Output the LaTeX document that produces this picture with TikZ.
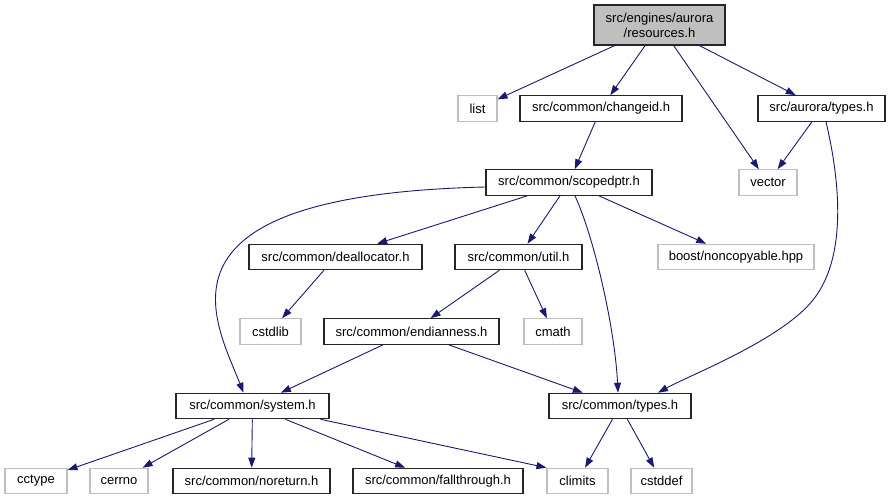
\documentclass[tikz,border=0pt]{standalone}
\usepackage{fontspec}
\setmainfont{Liberation Sans}
\usepackage{tikz}
\usetikzlibrary{positioning,arrows.meta}

\definecolor{edgeblue}{HTML}{191970}

\begin{document}
\begin{tikzpicture}[x=1pt,y=-1pt]
        \tikzset{
            hdr/.style={draw=black!85, line width=1.1pt, minimum height=25.5pt, inner sep=0pt, font=\fontsize{13}{15}\selectfont},
            sysh/.style={hdr, draw=black!25},
            top/.style={hdr, fill=black!25, minimum height=40pt, align=center},
            dep/.style={edgeblue, line width=0.9pt, -{Triangle[length=10pt,width=7pt]}}
        }
        \useasboundingbox (0,0) rectangle (890,500);
        \node[top, minimum width=131pt] (res) at (659.5,25) {src/engines/aurora\\/resources.h};
        \node[sysh, minimum width=39pt] (list) at (477.5,108.5) {list};
        \node[hdr, minimum width=162pt] (changeid) at (601,108.5) {src/common/changeid.h};
        \node[hdr, minimum width=127pt] (atypes) at (821.5,108.5) {src/aurora/types.h};
        \node[sysh, minimum width=58pt] (vector) at (768,182.5) {vector};
        \node[hdr, minimum width=166pt] (scoped) at (569,182.5) {src/common/scopedptr.h};
        \node[hdr, minimum width=173pt] (dealloc) at (335.5,257) {src/common/deallocator.h};
        \node[hdr, minimum width=127pt] (util) at (518.5,257) {src/common/util.h};
        \node[sysh, minimum width=156pt] (boost) at (736,257) {boost/noncopyable.hpp};
        \node[sysh, minimum width=61pt] (cstdlib) at (270.5,331.5) {cstdlib};
        \node[hdr, minimum width=175pt] (endian) at (411.5,331.5) {src/common/endianness.h};
        \node[sysh, minimum width=58pt] (cmath) at (553,331.5) {cmath};
        \node[hdr, minimum width=153pt] (system) at (252.5,406) {src/common/system.h};
        \node[hdr, minimum width=142pt] (ctypes) at (620,406) {src/common/types.h};
        \node[sysh, minimum width=62pt] (cctype) at (36,481) {cctype};
        \node[sysh, minimum width=58pt] (cerrno) at (119,481) {cerrno};
        \node[hdr, minimum width=157pt] (noret) at (251.5,481) {src/common/noreturn.h};
        \node[hdr, minimum width=170pt] (fallthr) at (438,481) {src/common/fallthrough.h};
        \node[sysh, minimum width=61pt] (climits) at (577.5,481) {climits};
        \node[sysh, minimum width=61pt] (cstddef) at (661.5,481) {cstddef};

        \draw[dep] (res) -- (list);
        \draw[dep] (res) -- (changeid);
        \draw[dep] (res) -- (vector);
        \draw[dep] (res) -- (atypes);
        \draw[dep] (atypes) -- (vector);
        \draw[dep] ([xshift=4.5pt]atypes.south) .. controls (842,190) and (845,260) .. (813,300)
            .. controls (781,340) and (690,375) .. ([xshift=38pt]ctypes.north);
        \draw[dep] (changeid) -- (scoped);
        \draw[dep] ([yshift=-4.5pt]scoped.west) .. controls (140,195) and (215,320) .. ([xshift=-9pt]system.north);
        \draw[dep] (scoped) -- (dealloc);
        \draw[dep] (scoped) -- (util);
        \draw[dep] ([xshift=6pt]scoped.south) .. controls (595,240) and (615,330) .. ([xshift=-2pt]ctypes.north);
        \draw[dep] (scoped) -- (boost);
        \draw[dep] (dealloc) -- (cstdlib);
        \draw[dep] (util) -- (endian);
        \draw[dep] (util) -- (cmath);
        \draw[dep] (endian) -- (system);
        \draw[dep] (endian) -- (ctypes);
        \draw[dep] (ctypes) -- (climits);
        \draw[dep] (ctypes) -- (cstddef);
        \draw[dep] (system) -- (cctype);
        \draw[dep] (system) -- (cerrno);
        \draw[dep] (system) -- (noret);
        \draw[dep] (system) -- (fallthr);
        \draw[dep] ([xshift=-9pt]system.south east) -- (climits.north west);
    \end{tikzpicture}
\end{document}
